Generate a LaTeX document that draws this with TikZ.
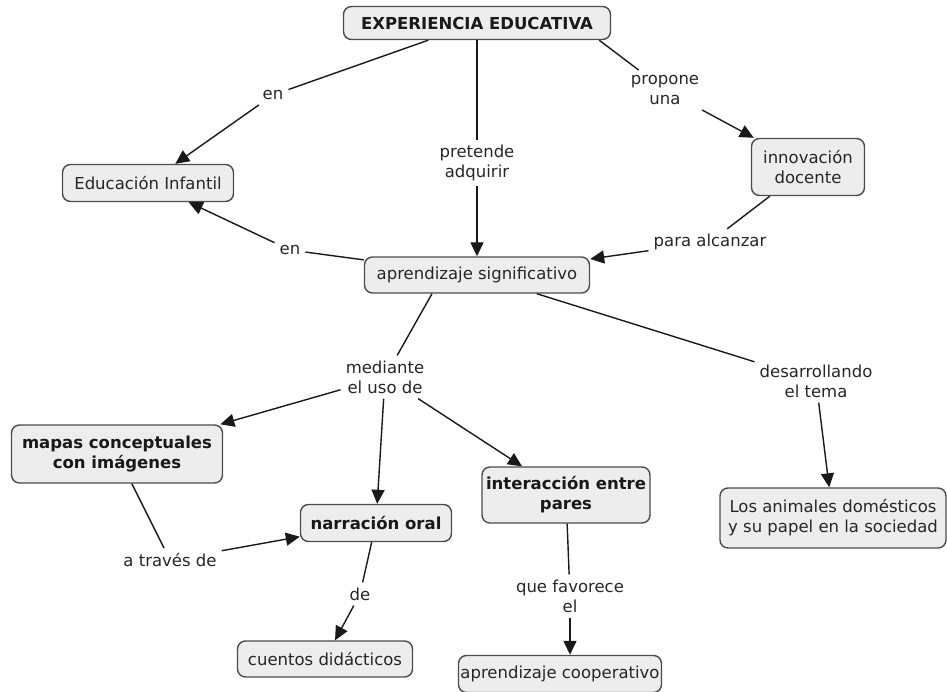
\documentclass[tikz,border=0pt]{standalone}
\usepackage{fontspec}
\setmainfont{DejaVu Sans}
\usetikzlibrary{arrows.meta,calc}
\begin{document}
\begin{tikzpicture}[x=1pt,y=1pt,
 txt/.style={font=\fontsize{16.5}{20}\selectfont, text=black!85},
 boldtxt/.style={font=\fontsize{16.5}{20}\selectfont\bfseries, text=black!90},
 concept/.style={txt, draw=black!70, line width=1.4pt, fill=black!7, rounded corners=8pt, align=center, inner sep=0pt},
 bconcept/.style={concept, boldtxt},
 linkw/.style={txt, align=center, inner sep=5pt},
 conn/.style={line width=1.4pt, draw=black!90},
 arr/.style={conn, -{Triangle[length=14pt,width=13pt]}}]
\useasboundingbox (0,0) rectangle (947,-692);

% concepts
\node[bconcept, minimum width=267pt, minimum height=33pt] (EE) at (477,-23) {EXPERIENCIA EDUCATIVA};
\node[concept, minimum width=171pt, minimum height=37pt] (edu) at (148,-183) {Educación Infantil};
\node[concept, minimum width=113pt, minimum height=57pt] (innov) at (808,-167) {innovación\\docente};
\node[concept, minimum width=225pt, minimum height=36pt] (aprend) at (477,-275) {aprendizaje significativo};
\node[bconcept, minimum width=211pt, minimum height=58pt] (mapas) at (117,-454) {mapas conceptuales\\con imágenes};
\node[bconcept, minimum width=151pt, minimum height=37pt] (narr) at (376,-523) {narración oral};
\node[bconcept, minimum width=168pt, minimum height=56pt] (inter) at (566,-495) {interacción entre\\pares};
\node[concept, minimum width=226pt, minimum height=60pt] (anim) at (833,-518) {Los animales domésticos\\y su papel en la sociedad};
\node[concept, minimum width=175pt, minimum height=36pt] (cuentos) at (325,-659) {cuentos didácticos};
\node[concept, minimum width=203pt, minimum height=37pt] (coop) at (560,-674) {aprendizaje cooperativo};

% linking phrases
\node[linkw] (en1) at (273,-95) {en};
\node[linkw] (pret) at (477,-163) {pretende\\adquirir};
\node[linkw] (prop) at (665,-90) {propone\\una};
\node[linkw] (en2) at (290,-250) {en};
\node[linkw] (para) at (710,-242) {para alcanzar};
\node[linkw] (med) at (385,-377) {mediante\\el uso de};
\node[linkw] (desa) at (816,-381) {desarrollando\\el tema};
\node[linkw] (atra) at (170,-560) {a través de};
\node[linkw] (de) at (360,-594) {de};
\node[linkw] (que) at (570,-596) {que favorece\\el};

% connectors
\draw[conn] (EE) -- (en1);
\draw[arr] (en1) -- (edu);
\draw[conn] (EE) -- (pret);
\draw[arr] (pret) -- (aprend);
\draw[conn] ($(EE.south east)+(-12,0)$) -- (prop);
\draw[arr] (prop) -- (innov);
\draw[conn] (innov) -- (para);
\draw[arr] (para) -- (aprend);
\draw[conn] (aprend) -- (en2);
\draw[arr] (en2) -- (edu);
\draw[conn] ($(aprend.south)+(-45,0)$) -- (med);
\draw[arr] (med) -- (mapas);
\draw[arr] (med) -- (narr);
\draw[arr] (med) -- (inter);
\draw[conn] (aprend) -- (desa);
\draw[arr] (desa) -- (anim);
\draw[conn] (mapas) -- (atra);
\draw[arr] (atra) -- (narr);
\draw[conn] (narr) -- (de);
\draw[arr] (de) -- (cuentos);
\draw[conn] (inter) -- (que);
\draw[arr] (que.south) -- (que.south |- coop.north);
\end{tikzpicture}
\end{document}
